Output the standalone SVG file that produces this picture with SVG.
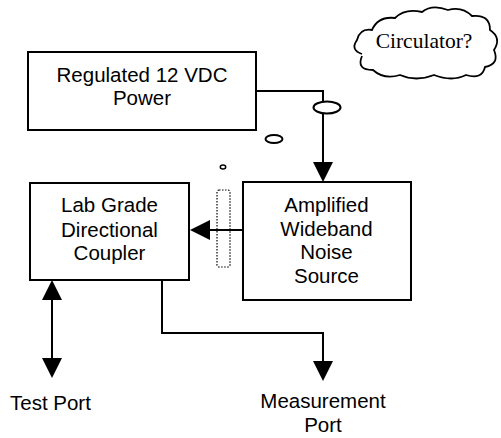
<svg xmlns="http://www.w3.org/2000/svg" width="501" height="438" viewBox="0 0 501 438">
<style>
.box{fill:#fff;stroke:#000;stroke-width:2}
.t{font-family:"Liberation Sans",Arial,sans-serif;font-size:20.5px;fill:#000;text-anchor:middle}
.c{fill:none;stroke:#000;stroke-width:2}
</style>
<defs>
<marker id="arr" viewBox="0 0 20 20" markerUnits="userSpaceOnUse" markerWidth="20" markerHeight="20" refX="0" refY="10" orient="auto-start-reverse">
<path d="M0 0 L20 10 L0 20 Z" fill="#000"/>
</marker>
</defs>
<g id="connectors">
<path class="c" d="M256 91 H323 V162" marker-end="url(#arr)"/>
<path class="c" d="M243 230 H210" marker-end="url(#arr)"/>
<path class="c" d="M52 300 V358" marker-start="url(#arr)" marker-end="url(#arr)"/>
<path class="c" d="M162 280 V333 H323 V361" marker-end="url(#arr)"/>
<ellipse cx="327" cy="107.5" rx="13.5" ry="6" fill="#fff" stroke="#000" stroke-width="2"/>
<ellipse cx="274" cy="139" rx="8.5" ry="4" fill="none" stroke="#000" stroke-width="2"/>
<ellipse cx="223" cy="167" rx="2.7" ry="2" fill="none" stroke="#000" stroke-width="1.5"/>
<rect x="217" y="190" width="13" height="77" rx="2" fill="none" stroke="#000" stroke-width="1.2" stroke-dasharray="1.5 1.5"/>
</g>
<g id="power">
<rect class="box" x="28" y="52" width="228" height="78"/>
<text class="t" x="142" y="82">Regulated 12 VDC</text>
<text class="t" x="142" y="105">Power</text>
</g>
<g id="coupler">
<rect class="box" x="30" y="183" width="159" height="97"/>
<text class="t" x="109.5" y="212">Lab Grade</text>
<text class="t" x="109.5" y="236.5">Directional</text>
<text class="t" x="109.5" y="260">Coupler</text>
</g>
<g id="noise">
<rect class="box" x="243" y="182" width="168" height="118"/>
<text class="t" x="326.5" y="212">Amplified</text>
<text class="t" x="326.5" y="235.5">Wideband</text>
<text class="t" x="326.5" y="259">Noise</text>
<text class="t" x="326.5" y="283">Source</text>
</g>
<g id="circulator">
<path d="M362 54 Q350 50 357 40 Q360 28 372 30 Q378 16 395 18 Q405 8 422 12 Q432 4 448 10 Q462 6 472 16 Q490 14 490 30 Q502 38 494 50 Q500 64 485 67 Q482 80 466 75 Q452 82 434 75 Q416 82 400 75 Q384 80 373 70 Q356 70 362 56" fill="#fff" stroke="#000" stroke-width="1.8"/>
<text x="424" y="48" font-family="'Liberation Serif','Times New Roman',serif" font-size="21.5" text-anchor="middle" fill="#000">Circulator?</text>
</g>
<g id="testport">
<text class="t" x="10" y="410" style="text-anchor:start">Test Port</text>
</g>
<g id="measport">
<text class="t" x="323" y="408">Measurement</text>
<text class="t" x="323" y="431.5">Port</text>
</g>
</svg>
